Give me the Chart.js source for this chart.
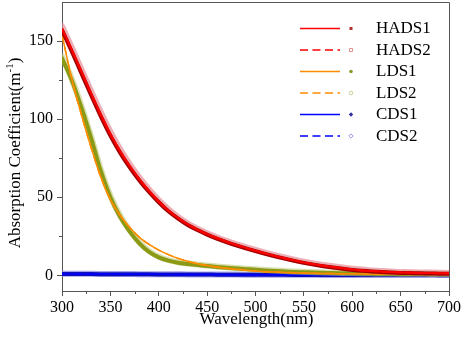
<!DOCTYPE html>
<html>
<head>
<meta charset="utf-8">
<script src="https://cdn.jsdelivr.net/npm/chart.js@4.4.1/dist/chart.umd.min.js"></script>
<style>
html,body{margin:0;padding:0;background:#fff;}
#wrap{position:relative;width:464px;height:339px;}
</style>
</head>
<body>
<div id="wrap"><canvas id="c" width="464" height="339"></canvas></div>
<script>
// ---- data ----
const wavelength = [300,310,320,330,340,350,360,370,380,390,400,410,420,430,440,450,460,470,480,490,500,510,520,530,540,550,560,570,580,590,600,610,620,630,640,650,660,670,680,690,700];

const hadsLine = [158,144.5,130.5,116.5,103,90.5,79.5,70,61.5,54,47.3,41.5,36.7,32.6,29.3,26.4,23.9,21.6,19.5,17.6,15.8,14.1,12.5,11,9.6,8.3,7.2,6.2,5.3,4.5,3.8,3.2,2.75,2.4,2.1,1.9,1.75,1.6,1.5,1.4,1.3];
const hads1 = [157,143.5,129.5,115.5,102,89.5,78.6,69.2,60.8,53.4,46.8,41,36.3,32.2,29,26.1,23.6,21.3,19.2,17.3,15.5,13.8,12.2,10.7,9.3,8,6.9,5.9,5,4.2,3.5,2.9,2.45,2.1,1.8,1.6,1.45,1.3,1.2,1.1,1.0];
const hads2 = [159.5,146,132,118,104.5,92,80.8,71.2,62.6,55,48.2,42.3,37.4,33.2,29.9,27,24.4,22.1,20,18.1,16.3,14.6,13,11.5,10.1,8.8,7.7,6.7,5.8,5,4.3,3.7,3.2,2.8,2.5,2.2,2.05,1.9,1.8,1.7,1.6];

const ldsLine = [154,126,103,82,63,48.5,38.5,30.7,24.3,19.8,16.2,13.3,10.9,9,7.5,6.3,5.3,4.5,3.9,3.3,2.8,2.4,2.1,1.85,1.65,1.5,1.35,1.25,1.15,1.05,1.0,0.95,0.9,0.86,0.82,0.78,0.74,0.7,0.67,0.64,0.62];
const lds1 = [139,125,107.5,88,67,50,37.5,28,20.5,15,11.5,9.4,8.1,7.3,6.6,6,5.4,4.9,4.45,4,3.55,3.15,2.8,2.5,2.2,2,1.8,1.65,1.5,1.4,1.3,1.2,1.1,1.05,1.0,0.95,0.9,0.85,0.8,0.75,0.7];
const lds2 = [140,126,108.5,89,68,51,38.3,28.7,21,15.5,11.9,9.7,8.4,7.6,6.9,6.3,5.7,5.2,4.75,4.3,3.85,3.45,3.1,2.8,2.5,2.25,2.05,1.9,1.75,1.6,1.5,1.4,1.3,1.2,1.15,1.1,1.05,1.0,0.95,0.9,0.85];

const cdsLine = [1.0,0.97,0.94,0.9,0.87,0.84,0.8,0.77,0.74,0.7,0.67,0.64,0.61,0.58,0.55,0.52,0.5,0.48,0.46,0.44,0.42,0.4,0.38,0.36,0.34,0.32,0.3,0.29,0.28,0.27,0.26,0.25,0.24,0.23,0.22,0.21,0.2,0.19,0.18,0.17,0.16];
const cds1 = [0.9,0.88,0.85,0.82,0.8,0.77,0.74,0.71,0.68,0.65,0.62,0.6,0.57,0.55,0.52,0.5,0.48,0.46,0.44,0.42,0.4,0.38,0.36,0.34,0.32,0.3,0.29,0.28,0.27,0.26,0.25,0.24,0.23,0.22,0.21,0.2,0.19,0.18,0.17,0.16,0.15];
const cds2 = [1.1,1.06,1.02,0.98,0.95,0.91,0.87,0.84,0.8,0.77,0.74,0.7,0.67,0.64,0.61,0.58,0.55,0.53,0.5,0.48,0.46,0.44,0.42,0.4,0.38,0.36,0.34,0.32,0.31,0.3,0.29,0.28,0.27,0.26,0.25,0.24,0.23,0.22,0.21,0.2,0.19];

const xTicks = [300,350,400,450,500,550,600,650,700];
const yTicks = [0,50,100,150];
const seriesNames = ['HADS1','HADS2','LDS1','LDS2','CDS1','CDS2'];

// ---- build chart ----
const pts = arr => wavelength.map((w,i)=>({x:w,y:arr[i]}));
const FONT = "'Liberation Serif','Times New Roman',serif";
const DASH = [8,4.5];

function band(arr, color, width, order){
  return {data:pts(arr), borderColor:color, borderWidth:width, pointRadius:0,
          cubicInterpolationMode:'monotone', fill:false, order:order, borderCapStyle:'round'};
}
function line(arr, color, width, dash, order){
  return {data:pts(arr), borderColor:color, borderWidth:width, borderDash:dash||[], pointRadius:0,
          cubicInterpolationMode:'monotone', fill:false, order:order};
}

const datasets = [
  // CDS (bottom)
  band(cds2,'rgba(140,140,230,0.8)',6,40),
  band(cds1,'#1010b0',4,39),
  line(cdsLine,'#0000ff',1.5,null,38),
  line(cdsLine,'#0000ff',1.5,DASH,37),
  // LDS
  band(lds2,'rgba(190,200,120,0.6)',6,30),
  band(lds1,'#8a9a14',4,29),
  line(ldsLine,'#ff8c00',1.5,null,28),
  line(ldsLine,'#ff8c00',1.5,DASH,27),
  // HADS (top)
  band(hads2,'rgba(230,140,150,0.7)',6,20),
  band(hads1,'#a00000',4,19),
  line(hadsLine,'#ff0000',2,null,18),
  line(hadsLine,'#ff0000',2,DASH,17),
];

const legendItems = [
  {name:seriesNames[0], color:'#ff0000', dash:null, marker:'sqFill', mcolor:'#b03030'},
  {name:seriesNames[1], color:'#ff0000', dash:DASH, marker:'sqOpen', mcolor:'#e09090'},
  {name:seriesNames[2], color:'#ff8c00', dash:null, marker:'ciFill', mcolor:'#8a9a2a'},
  {name:seriesNames[3], color:'#ff8c00', dash:DASH, marker:'ciOpen', mcolor:'#cfd0a0'},
  {name:seriesNames[4], color:'#0000ff', dash:null, marker:'diFill', mcolor:'#3030a0'},
  {name:seriesNames[5], color:'#0000ff', dash:DASH, marker:'diOpen', mcolor:'#9a9ae0'},
];

const decor = {
  id:'decor',
  afterDraw(chart){
    const ctx = chart.ctx, a = chart.chartArea;
    const xs = chart.scales.x, ys = chart.scales.y;
    ctx.save();
    // frame (top & right)
    ctx.strokeStyle = '#555'; ctx.lineWidth = 1;
    ctx.beginPath();
    ctx.moveTo(a.left, a.top+0.5); ctx.lineTo(a.right+0.5, a.top+0.5); ctx.lineTo(a.right+0.5, a.bottom);
    ctx.stroke();
    // minor ticks
    ctx.beginPath();
    for (let v = 325; v < 700; v += 50){
      const px = Math.round(xs.getPixelForValue(v))+0.5;
      ctx.moveTo(px, a.bottom); ctx.lineTo(px, a.bottom+3);
    }
    for (let v = 25; v < 175; v += 50){
      const py = Math.round(ys.getPixelForValue(v))+0.5;
      ctx.moveTo(a.left, py); ctx.lineTo(a.left-3, py);
    }
    ctx.stroke();
    // axis titles
    ctx.fillStyle = '#000';
    ctx.font = '17px ' + FONT;
    ctx.textAlign = 'center'; ctx.textBaseline = 'middle';
    ctx.fillText('Wavelength(nm)', (a.left+a.right)/2 + 1, 320);
    ctx.save();
    ctx.translate(16, 153);
    ctx.rotate(-Math.PI/2);
    ctx.textAlign = 'left';
    const t1 = 'Absorption Coefficient(m', t2 = '-1', t3 = ')';
    ctx.font = '17px ' + FONT; const w1 = ctx.measureText(t1).width, w3 = ctx.measureText(t3).width;
    ctx.font = '11px ' + FONT; const w2 = ctx.measureText(t2).width;
    let x0 = -(w1+w2+w3)/2;
    ctx.font = '17px ' + FONT; ctx.fillText(t1, x0, 0);
    ctx.font = '11px ' + FONT; ctx.fillText(t2, x0+w1, -6);
    ctx.font = '17px ' + FONT; ctx.fillText(t3, x0+w1+w2, 0);
    ctx.restore();
    // legend
    const y0 = 28.5, dy = 21.5;
    legendItems.forEach((it, i) => {
      const y = y0 + i*dy;
      ctx.strokeStyle = it.color; ctx.lineWidth = 1.5;
      ctx.setLineDash(it.dash || []);
      ctx.beginPath(); ctx.moveTo(300, y); ctx.lineTo(340, y); ctx.stroke();
      ctx.setLineDash([]);
      const mx = 351;
      ctx.strokeStyle = it.mcolor; ctx.fillStyle = it.mcolor; ctx.lineWidth = 1;
      ctx.beginPath();
      if (it.marker.startsWith('sq')) ctx.rect(mx-1.5, y-1.5, 3, 3);
      else if (it.marker.startsWith('ci')) ctx.arc(mx, y, 1.8, 0, Math.PI*2);
      else { ctx.moveTo(mx, y-2.2); ctx.lineTo(mx+2.2, y); ctx.lineTo(mx, y+2.2); ctx.lineTo(mx-2.2, y); ctx.closePath(); }
      if (it.marker.endsWith('Fill')) ctx.fill(); else ctx.stroke();
      ctx.fillStyle = '#000';
      ctx.font = '17px ' + FONT; ctx.textAlign = 'left'; ctx.textBaseline = 'middle';
      ctx.fillText(it.name, 376, y + 0.5);
    });
    ctx.restore();
  }
};

new Chart(document.getElementById('c'), {
  type:'line',
  data:{datasets},
  options:{
    responsive:false, animation:false, devicePixelRatio:1,
    layout:{padding:{top:2, right:15, left:0, bottom:0}},
    plugins:{legend:{display:false}, tooltip:{enabled:false}},
    scales:{
      x:{type:'linear', min:300, max:700,
         afterBuildTicks(s){ s.ticks = xTicks.map(v=>({value:v})); },
         afterFit(s){ s.height = 48; s.paddingLeft = 0; s.paddingRight = 0; },
         grid:{display:true, drawOnChartArea:false, drawTicks:true, tickLength:5, color:'#555'},
         border:{display:true, color:'#555', width:1},
         ticks:{color:'#000', font:{family:FONT, size:16}, padding:2, maxRotation:0, autoSkip:false}},
      y:{type:'linear', min:-10, max:175,
         afterBuildTicks(s){ s.ticks = yTicks.map(v=>({value:v})); },
         afterFit(s){ s.width = 62; s.paddingTop = 0; s.paddingBottom = 0; },
         grid:{display:true, drawOnChartArea:false, drawTicks:true, tickLength:5, color:'#555'},
         border:{display:true, color:'#555', width:1},
         ticks:{color:'#000', font:{family:FONT, size:16}, padding:4}}
    }
  },
  plugins:[decor]
});
</script>
</body>
</html>
